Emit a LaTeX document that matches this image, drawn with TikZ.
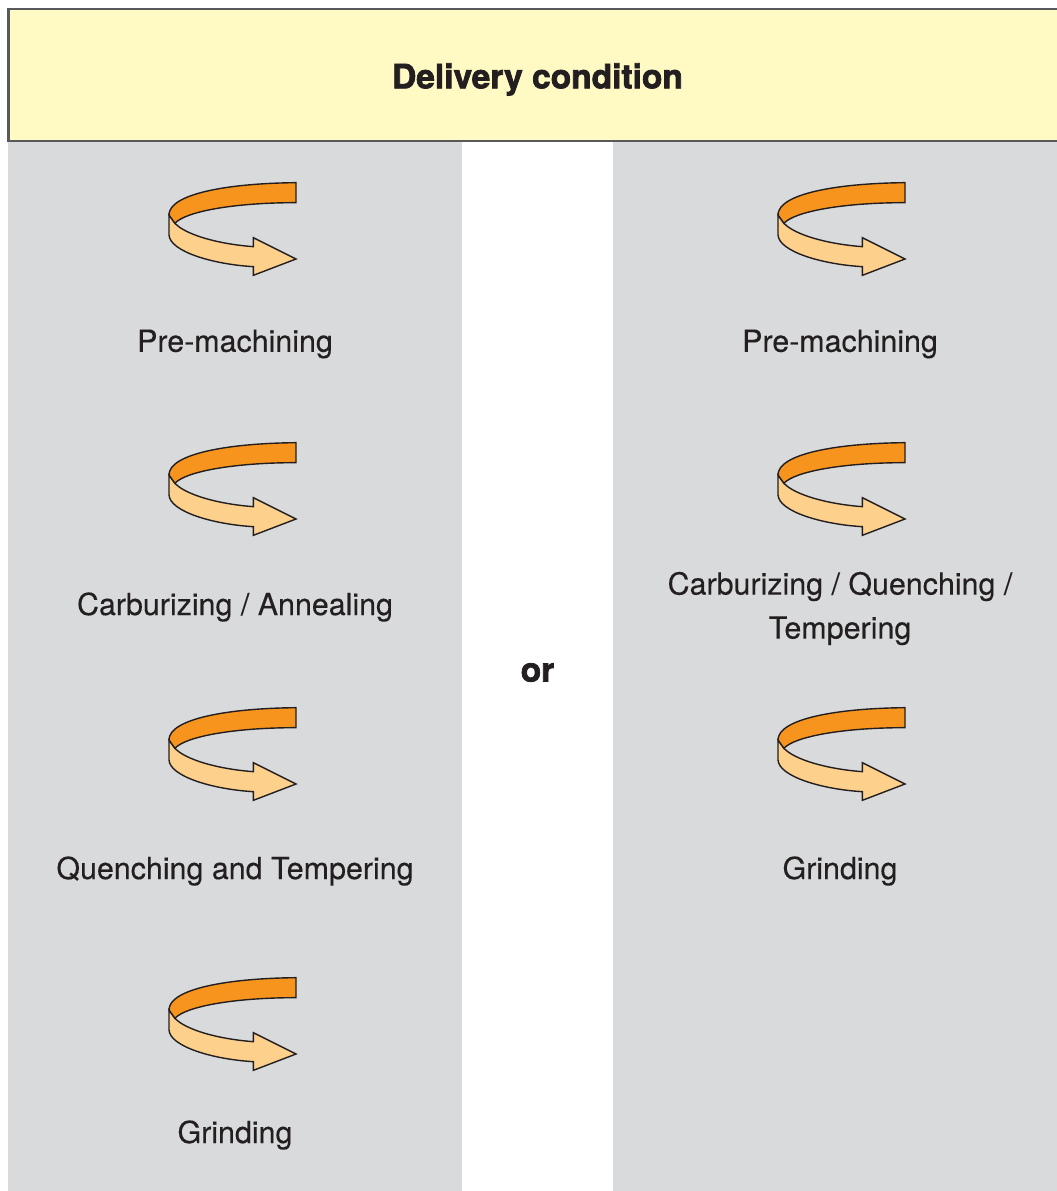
\documentclass[tikz,border=0pt]{standalone}
\usepackage{fontspec}
\setmainfont[FakeBold=0.25]{TeX Gyre Heros}
\newfontfamily\heavyfont[FakeBold=2.2]{TeX Gyre Heros Bold}
\definecolor{hdrfill}{HTML}{FFF9C4}
\definecolor{hdrline}{HTML}{58595B}
\definecolor{colgray}{HTML}{D9DADC}
\definecolor{ribdark}{HTML}{F7941D}
\definecolor{riblight}{HTML}{FDD08B}
\definecolor{ink}{HTML}{231F20}
\tikzset{
  stagelabel/.style={font=\fontsize{30.4}{44}\selectfont, text=ink, align=center, inner sep=0pt},
  heavylabel/.style={font=\heavyfont\fontsize{33.5}{36}\selectfont, text=ink, inner sep=0pt},
  ribbonline/.style={draw=ink, line width=1.4pt, line join=miter},
  pics/turnarrow/.style={code={
    \begin{scope}[scale=0.33333]
    \path[ribbonline, fill=riblight]
      (57,135) -- (57,195) .. controls (60,245) and (190,283) .. (310,290)
      -- (310,316) -- (438,267) -- (310,203) -- (310,230)
      .. controls (205,222) and (108,195) .. (75,160) -- cycle;
    \path[ribbonline, fill=ribdark]
      (438,38) .. controls (230,40) and (57,72) .. (57,135)
      -- (75,160) .. controls (105,125) and (250,98) .. (438,98) -- cycle;
    \end{scope}
  }}
}
\begin{document}
\begin{tikzpicture}[x=1pt,y=-1pt]
\useasboundingbox (0,0) rectangle (1057,1191);
\fill[white] (0,0) rectangle (1057,1191);
\fill[colgray] (8,141) rectangle (462,1191);
\fill[colgray] (613,141) rectangle (1057,1191);
\path[fill=hdrfill] (8,9) rectangle (1057,141);
\draw[hdrline, line width=2.6pt] (1058,9) -- (8.5,9) -- (8.5,141) -- (1058,141);
\node[heavylabel] (title) at (537.5,79.5) {Delivery condition};
\node[heavylabel] (ortext) at (537.5,672.5) {or};
\foreach \n/\dx/\dy in {a/150/170,b/150/430,c/150/695,d/150/965,e/759/170,f/759/430,g/759/695}{
  \pic (\n) at (\dx,\dy) {turnarrow};
}
\node[stagelabel] (l1) at (235,344) {Pre-machining};
\node[stagelabel] (l2) at (235,607) {Carburizing / Annealing};
\node[stagelabel] (l3) at (235,871) {Quenching and Tempering};
\node[stagelabel] (l4) at (235,1135) {Grinding};
\node[stagelabel] (r1) at (840,344) {Pre-machining};
\node[stagelabel] (r2) at (840,608.5) {Carburizing / Quenching /\\Tempering};
\node[stagelabel] (r3) at (840,871) {Grinding};
\end{tikzpicture}
\end{document}
